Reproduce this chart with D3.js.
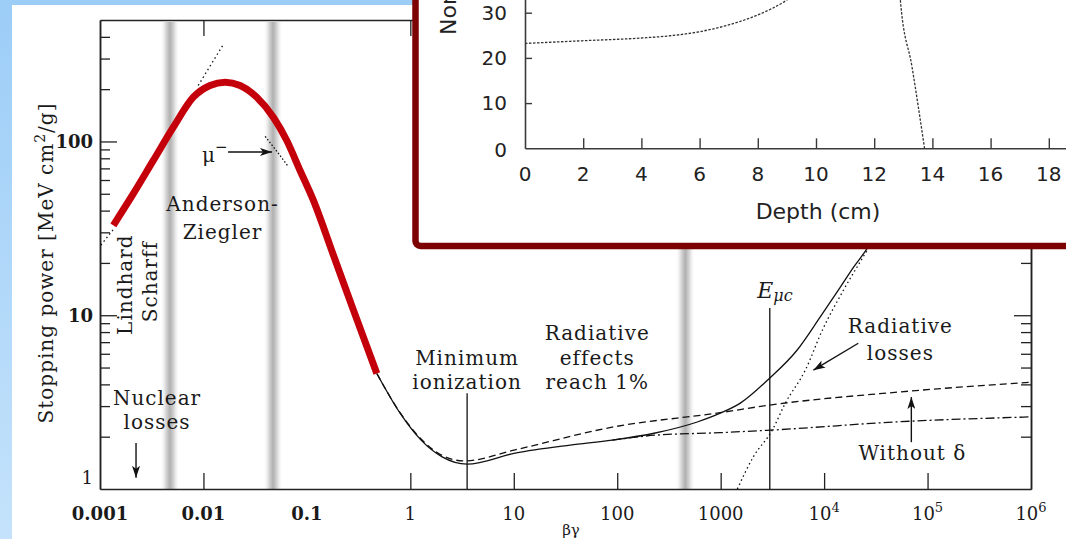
<!DOCTYPE html>
<html>
<head>
<meta charset="utf-8">
<script src="https://d3js.org/d3.v7.min.js"></script>
<style>
  html, body { margin: 0; padding: 0; overflow: hidden; background: #ffffff; }
  #chart { width: 1066px; height: 539px; }
  .serif { font-family: 'DejaVu Serif', serif; }
  .sans { font-family: 'DejaVu Sans', Verdana, sans-serif; }
</style>
</head>
<body>
<div id="chart"></div>
<script>
//
// Data
//

// stopping power curve, highlighted part (beta*gamma, MeV cm2/g)
const redBetaGamma = [0.001345, 0.0021, 0.003277, 0.005117, 0.00798, 0.01158, 0.01619, 0.0226, 0.03277, 0.0474, 0.0639, 0.0859, 0.1156, 0.1803, 0.2818, 0.4742];
const redStopping = [32.9, 50.1, 77.8, 120.8, 179.7, 209.8, 219.2, 209.8, 179.7, 137.9, 101.3, 68.1, 45.8, 22.2, 10.7, 4.62];

// total (solid)
const totalBetaGamma = [0.4742, 0.796, 1.27, 2.03, 3.54, 10.3, 35.1, 89.5, 233, 594, 991, 1549, 2972, 5470, 9180, 14350, 19280, 26000, 45000];
const totalStopping = [4.62, 2.73, 1.91, 1.53, 1.39, 1.61, 1.79, 1.91, 2.10, 2.43, 2.73, 3.12, 4.34, 6.29, 9.78, 14.5, 18.9, 24.2, 45];

// ionization with delta rays (dashed)
const ionBetaGamma = [0.4742, 0.796, 1.27, 2.03, 3.31, 10.3, 89.5, 991, 2972, 54600, 1e6];
const ionStopping = [4.62, 2.75, 1.94, 1.56, 1.45, 1.68, 2.27, 2.75, 3.04, 3.62, 4.12];

// without delta (dash-dot)
const noDeltaBetaGamma = [89.5, 233, 991, 2972, 54600, 1e6];
const noDeltaStopping = [1.91, 2.04, 2.11, 2.18, 2.44, 2.60];

// radiative losses (dotted)
const radBetaGamma = [1450, 2066, 3155, 4217, 6580, 9610, 15340, 26740, 45000];
const radStopping = [1.0, 1.53, 2.18, 3.12, 4.83, 8.20, 13.9, 24.3, 42];

// small dotted pieces near the low-energy end
const lindhardBetaGamma = [0.00102, 0.00137];
const lindhardStopping = [25.3, 31.6];
const betheBetaGamma = [0.0089, 0.0155];
const betheStopping = [210, 360];
const muBetaGamma = [0.0395, 0.051, 0.0658];
const muStopping = [107, 88, 72];

// shaded boundaries between the regions
const bandBetaGamma = [0.00475, 0.0471, 455];

// reference lines
const minIonization = { bg: 3.54, top: 3.56 };
const muCritical = { bg: 2985, top: 11.0 };

// axis ticks
const xTickValues = [0.001, 0.01, 0.1, 1, 10, 100, 1000, 1e4, 1e5, 1e6];
const xTickBase = ['0.001', '0.01', '0.1', '1', '10', '100', '1000', '10', '10', '10'];
const xTickExp = ['', '', '', '', '', '', '', '4', '5', '6'];
const xTickBold = [true, true, true, false, false, false, false, false, false, false];
const xTickMarks = [0.01, 1, 10, 100, 1000, 1e4, 1e5];
const yTickValues = [1, 10, 100];
const yTickText = ['1', '10', '100'];
const yTickBold = [false, true, true];
const yMinorTicks = [2, 3, 4, 5, 6, 7, 8, 9, 20, 30, 40, 50, 60, 70, 80, 90, 200, 300, 400];

// text annotations (centre positions in data units)
const labels = [
  { text: 'Anderson-', bg: 0.0153, s: 43.5 },
  { text: 'Ziegler', bg: 0.0153, s: 30.0 },
  { text: 'Nuclear', bg: 0.00356, s: 3.33 },
  { text: 'losses', bg: 0.00356, s: 2.43 },
  { text: 'Minimum', bg: 3.54, s: 5.66 },
  { text: 'ionization', bg: 3.54, s: 4.12 },
  { text: 'Radiative', bg: 64.1, s: 7.88 },
  { text: 'effects', bg: 64.1, s: 5.66 },
  { text: 'reach 1%', bg: 64.1, s: 4.12 },
  { text: 'Radiative', bg: 54600, s: 8.64 },
  { text: 'losses', bg: 54600, s: 6.05 },
  { text: 'Without \u03b4', bg: 71300, s: 1.61 }
];
const rotatedLabels = [
  { text: 'Lindhard', bg: 0.00174, s: 15.0 },
  { text: 'Scharff', bg: 0.00305, s: 15.6 }
];
const arrows = [
  { from: [0.0173, 87.0], to: [0.046, 87.0] },
  { from: [0.00223, 1.84], to: [0.00223, 1.16] },
  { from: [21400, 6.90], to: [7870, 4.83] },
  { from: [69700, 1.86], to: [69700, 3.38] }
];

// inset: depth-dose curve
const depthCm = [0, 2, 4, 5, 6, 7, 8, 9, 10, 11, 12, 12.5, 12.9, 13.3, 13.73];
const doseNorm = [23.2, 23.8, 24.4, 24.9, 25.8, 27.3, 29.5, 32.8, 38, 46, 62, 100, 32.7, 18, 0];
const depthTicks = [0, 2, 4, 6, 8, 10, 12, 14, 16, 18];
const doseTicks = [0, 10, 20, 30];

//
// Set-up
//

const width = 1066;
const height = 539;

const svg = d3.select('#chart')
  .append('svg')
    .attr('width', width)
    .attr('height', height);

const defs = svg.append('defs');

const bgGrad = defs.append('linearGradient')
  .attr('id', 'bgGrad')
  .attr('x1', 0).attr('y1', 0).attr('x2', 0).attr('y2', 1);
bgGrad.append('stop').attr('offset', 0).attr('stop-color', '#9ccdf7');
bgGrad.append('stop').attr('offset', 1).attr('stop-color', '#c4e2fb');

const bandGrad = defs.append('linearGradient')
  .attr('id', 'bandGrad')
  .attr('x1', 0).attr('y1', 0).attr('x2', 1).attr('y2', 0);
[[0, '#ffffff', 0], [0.3, '#d6d6d6', 1], [0.5, '#b0b0b0', 1], [0.7, '#d6d6d6', 1], [1, '#ffffff', 0]]
  .forEach(s => bandGrad.append('stop')
    .attr('offset', s[0]).attr('stop-color', s[1]).attr('stop-opacity', s[2]));

defs.append('marker')
  .attr('id', 'head')
  .attr('markerUnits', 'userSpaceOnUse')
  .attr('viewBox', '0 0 12 8')
  .attr('refX', 12).attr('refY', 4)
  .attr('markerWidth', 12).attr('markerHeight', 8)
  .attr('orient', 'auto')
  .append('path')
    .attr('d', 'M0,0 L12,4 L0,8 L3,4 Z')
    .attr('fill', '#111');

// page background and paper
svg.append('rect')
  .attr('width', width).attr('height', height)
  .attr('fill', 'url(#bgGrad)');
svg.append('rect')
  .attr('x', 12).attr('y', 5)
  .attr('width', width - 12).attr('height', height - 5)
  .attr('fill', '#ffffff');

//
// Main plot scales
//

const x = d3.scaleLog().domain([1e-3, 1e6]).range([100, 1031]);
const y = d3.scaleLog().domain([1, 500]).range([489, 20]);

defs.append('clipPath').attr('id', 'plotClip')
  .append('rect')
    .attr('x', 100).attr('y', 20)
    .attr('width', 931).attr('height', 469);

const plot = svg.append('g');

// shaded bands
plot.selectAll('rect.band')
  .data(bandBetaGamma)
  .enter().append('rect')
    .attr('class', 'band')
    .attr('x', d => x(d) - 10)
    .attr('y', y(500) + 2)
    .attr('width', 20)
    .attr('height', y(1) - y(500) - 2)
    .attr('fill', 'url(#bandGrad)');

// axes
function styleAxis(g) {
  g.select('.domain').attr('stroke', '#222').attr('stroke-width', 1.5);
  g.selectAll('.tick line').attr('stroke', '#222').attr('stroke-width', 1.3);
  g.selectAll('.tick text').remove();
}

plot.append('g')
  .attr('transform', `translate(0, ${y(1)})`)
  .call(d3.axisTop(x).tickValues(xTickMarks).tickSize(16).tickSizeOuter(0).tickFormat(''))
  .call(styleAxis);

plot.append('g')
  .attr('transform', `translate(0, ${y(500)})`)
  .call(d3.axisBottom(x).tickValues(xTickMarks).tickSize(16).tickSizeOuter(0).tickFormat(''))
  .call(styleAxis);

plot.append('g')
  .attr('transform', `translate(${x(1e-3)}, 0)`)
  .call(d3.axisRight(y).tickValues([10, 100]).tickSize(17).tickSizeOuter(0).tickFormat(''))
  .call(styleAxis);
plot.append('g')
  .attr('transform', `translate(${x(1e-3)}, 0)`)
  .call(d3.axisRight(y).tickValues(yMinorTicks).tickSize(10).tickSizeOuter(0).tickFormat(''))
  .call(styleAxis);

plot.append('g')
  .attr('transform', `translate(${x(1e6)}, 0)`)
  .call(d3.axisLeft(y).tickValues([10, 100]).tickSize(17).tickSizeOuter(0).tickFormat(''))
  .call(styleAxis);
plot.append('g')
  .attr('transform', `translate(${x(1e6)}, 0)`)
  .call(d3.axisLeft(y).tickValues(yMinorTicks).tickSize(10).tickSizeOuter(0).tickFormat(''))
  .call(styleAxis);

// tick labels
const xLabels = plot.append('g').attr('class', 'serif')
  .selectAll('text')
  .data(xTickValues)
  .enter().append('text')
    .attr('x', d => x(d))
    .attr('y', 520)
    .attr('text-anchor', 'middle')
    .style('font-size', '18px')
    .style('font-weight', (d, i) => xTickBold[i] ? 'bold' : 'normal')
    .style('fill', '#1a1a1a');
xLabels.append('tspan').text((d, i) => xTickBase[i]);
xLabels.append('tspan')
  .attr('dy', -8)
  .style('font-size', '13px')
  .text((d, i) => xTickExp[i]);

plot.append('g').attr('class', 'serif')
  .selectAll('text')
  .data(yTickValues)
  .enter().append('text')
    .attr('x', 93)
    .attr('y', d => y(d) + (d === 1 ? -11 : 0))
    .attr('dy', '0.35em')
    .attr('text-anchor', 'end')
    .style('font-size', '18px')
    .style('font-weight', (d, i) => yTickBold[i] ? 'bold' : 'normal')
    .style('fill', '#1a1a1a')
    .text((d, i) => yTickText[i]);

// axis titles
const yTitle = svg.append('text')
  .attr('class', 'serif')
  .attr('transform', 'translate(53, 263) rotate(-90)')
  .attr('text-anchor', 'middle')
  .style('font-size', '20px')
  .style('letter-spacing', '1px')
  .style('fill', '#1a1a1a');
yTitle.append('tspan').text('Stopping power [MeV cm');
yTitle.append('tspan').attr('dy', -8).style('font-size', '14px').text('2');
yTitle.append('tspan').attr('dy', 8).text('/g]');

svg.append('text')
  .attr('class', 'serif')
  .attr('x', 571).attr('y', 535)
  .attr('text-anchor', 'middle')
  .style('font-size', '15px')
  .style('fill', '#1a1a1a')
  .text('\u03b2\u03b3');

//
// Curves
//

const line = d3.line()
  .x(d => x(d[0]))
  .y(d => y(d[1]))
  .curve(d3.curveMonotoneX);

const curves = plot.append('g').attr('clip-path', 'url(#plotClip)');

// reference lines
curves.append('line')
  .attr('x1', x(minIonization.bg)).attr('x2', x(minIonization.bg))
  .attr('y1', y(minIonization.top)).attr('y2', y(1))
  .attr('stroke', '#111').attr('stroke-width', 1.3);
curves.append('line')
  .attr('x1', x(muCritical.bg)).attr('x2', x(muCritical.bg))
  .attr('y1', y(muCritical.top)).attr('y2', y(1))
  .attr('stroke', '#111').attr('stroke-width', 1.3);

const series = [
  { bg: totalBetaGamma, s: totalStopping, dash: null },
  { bg: ionBetaGamma, s: ionStopping, dash: '7,4' },
  { bg: noDeltaBetaGamma, s: noDeltaStopping, dash: '9,3,2,3' },
  { bg: radBetaGamma, s: radStopping, dash: '1.5,3' },
  { bg: lindhardBetaGamma, s: lindhardStopping, dash: '1.5,3' },
  { bg: betheBetaGamma, s: betheStopping, dash: '1.5,3' },
  { bg: muBetaGamma, s: muStopping, dash: '1.5,2' }
];

curves.selectAll('path.curve')
  .data(series)
  .enter().append('path')
    .attr('class', 'curve')
    .attr('d', d => line(d3.zip(d.bg, d.s)))
    .attr('fill', 'none')
    .attr('stroke', '#111')
    .attr('stroke-width', 1.3)
    .attr('stroke-dasharray', d => d.dash);

// highlighted curve
curves.append('path')
  .attr('d', line(d3.zip(redBetaGamma, redStopping)))
  .attr('fill', 'none')
  .attr('stroke', '#c4000b')
  .attr('stroke-width', 7);

//
// Annotations
//

plot.append('g').attr('class', 'serif')
  .selectAll('text')
  .data(labels)
  .enter().append('text')
    .attr('x', d => x(d.bg))
    .attr('y', d => y(d.s))
    .attr('dy', '0.35em')
    .attr('text-anchor', 'middle')
    .style('font-size', '20px')
    .style('letter-spacing', '1px')
    .style('fill', '#1a1a1a')
    .text(d => d.text);

plot.append('g').attr('class', 'serif')
  .selectAll('text')
  .data(rotatedLabels)
  .enter().append('text')
    .attr('transform', d => `translate(${x(d.bg)}, ${y(d.s)}) rotate(-90)`)
    .attr('dy', '0.35em')
    .attr('text-anchor', 'middle')
    .style('font-size', '20px')
    .style('letter-spacing', '1px')
    .style('fill', '#1a1a1a')
    .text(d => d.text);

const mu = plot.append('text')
  .attr('class', 'serif')
  .attr('x', x(0.0097))
  .attr('y', y(84))
  .attr('dy', '0.35em')
  .style('font-size', '20px')
  .style('fill', '#1a1a1a');
mu.append('tspan').text('\u03bc');
mu.append('tspan').attr('dy', -10).style('font-size', '15px').text('\u2212');

const euc = plot.append('text')
  .attr('class', 'serif')
  .attr('x', x(2260))
  .attr('y', y(12.5))
  .style('font-size', '22px')
  .style('font-style', 'italic')
  .style('fill', '#1a1a1a');
euc.append('tspan').text('E');
euc.append('tspan').attr('dy', 3).style('font-size', '16px').text('\u03bcc');

// white gap in the dash-dot line behind the "Without delta" arrow
plot.append('line')
  .attr('x1', x(69700)).attr('x2', x(69700))
  .attr('y1', y(2.25)).attr('y2', y(1.9))
  .attr('stroke', '#ffffff').attr('stroke-width', 30);

plot.append('g')
  .selectAll('line')
  .data(arrows)
  .enter().append('line')
    .attr('x1', d => x(d.from[0])).attr('y1', d => y(d.from[1]))
    .attr('x2', d => x(d.to[0])).attr('y2', d => y(d.to[1]))
    .attr('stroke', '#111')
    .attr('stroke-width', 1.4)
    .attr('marker-end', 'url(#head)');

//
// Inset: depth-dose plot
//

const inset = svg.append('g');

inset.append('rect')
  .attr('x', 415.5).attr('y', -20)
  .attr('width', 700).attr('height', 266)
  .attr('rx', 5)
  .attr('fill', '#ffffff')
  .attr('stroke', '#7d0303')
  .attr('stroke-width', 6.5);

const ix = d3.scaleLinear().domain([0, 20]).range([525, 1107]);
const iy = d3.scaleLinear().domain([0, 40]).range([148.3, -32.5]);

function styleInsetAxis(g) {
  g.select('.domain').attr('stroke', '#3a3a3a').attr('stroke-width', 1.6);
  g.selectAll('.tick line').attr('stroke', '#3a3a3a').attr('stroke-width', 1.4);
  g.selectAll('.tick text').remove();
}

inset.append('g')
  .attr('transform', `translate(0, ${iy(0)})`)
  .call(d3.axisTop(ix).tickValues(depthTicks.slice(1)).tickSize(10).tickSizeOuter(0).tickFormat(''))
  .call(styleInsetAxis);

inset.append('g')
  .attr('transform', `translate(${ix(0)}, 0)`)
  .call(d3.axisRight(iy).tickValues(doseTicks.slice(1)).tickSize(7).tickSizeOuter(0).tickFormat(''))
  .call(styleInsetAxis);

inset.append('g').attr('class', 'sans')
  .selectAll('text')
  .data(depthTicks)
  .enter().append('text')
    .attr('x', d => ix(d))
    .attr('y', 174)
    .attr('dy', '0.35em')
    .attr('text-anchor', 'middle')
    .style('font-size', '20px')
    .style('fill', '#222')
    .text(d => d);

inset.append('g').attr('class', 'sans')
  .selectAll('text')
  .data(doseTicks)
  .enter().append('text')
    .attr('x', 507)
    .attr('y', d => iy(d) + (d === 0 ? 2 : 0))
    .attr('dy', '0.35em')
    .attr('text-anchor', 'end')
    .style('font-size', '20px')
    .style('fill', '#222')
    .text(d => d);

inset.append('text')
  .attr('class', 'sans')
  .attr('x', 818).attr('y', 211)
  .attr('dy', '0.35em')
  .attr('text-anchor', 'middle')
  .style('font-size', '22px')
  .style('fill', '#222')
  .text('Depth (cm)');

inset.append('text')
  .attr('class', 'sans')
  .attr('transform', 'translate(456, 35) rotate(-90)')
  .attr('text-anchor', 'start')
  .style('font-size', '22px')
  .style('fill', '#222')
  .text('Normalized dose (%)');

const depthLine = d3.line()
  .x(d => ix(d[0]))
  .y(d => iy(d[1]))
  .curve(d3.curveMonotoneX);

inset.append('path')
  .attr('d', depthLine(d3.zip(depthCm, doseNorm)))
  .attr('fill', 'none')
  .attr('stroke', '#333')
  .attr('stroke-width', 1.3)
  .attr('stroke-dasharray', '2.5,1.5');
</script>
</body>
</html>
